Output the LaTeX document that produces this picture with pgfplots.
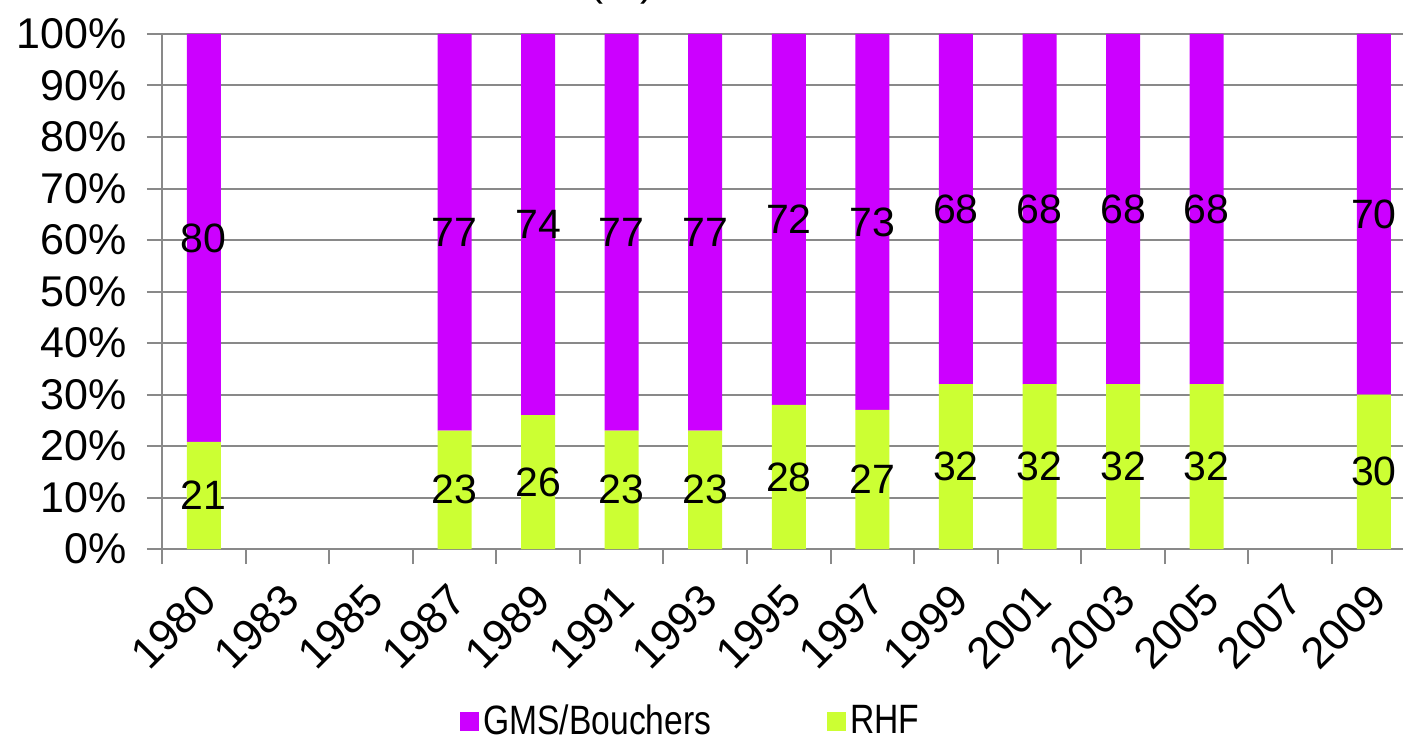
\documentclass[border=0pt]{standalone}
\usepackage{graphicx}
\usepackage{pgfplots}
\pgfplotsset{compat=1.18}
\usepackage{pgfplotstable}
\usepackage{fontspec}
\setmainfont{Liberation Sans}
\definecolor{gms}{HTML}{CC00FF}
\definecolor{rhf}{HTML}{CCFF33}
\definecolor{gridgray}{HTML}{898989}
\pgfplotstableread{
x year RHF GMS
0  1980 21 80
3  1987 23 77
4  1989 26 74
5  1991 23 77
6  1993 23 77
7  1995 28 72
8  1997 27 73
9  1999 32 68
10 2001 32 68
11 2003 32 68
12 2005 32 68
14 2009 30 70
}\datatable
\begin{document}
\begin{tikzpicture}
\pgfplotsset{
  common/.style={scale only axis, width=626.8pt, height=257.5pt,
    xmin=-0.5, xmax=14.5, ymin=0, ymax=100, at={(0pt,0pt)}, anchor=south west}
}
\begin{axis}[common, ybar stacked, bar width=17pt,
  axis lines=left, axis line style={-, draw=gridgray, line width=1pt},
  ymajorgrids, grid style={draw=gridgray, line width=1pt},
  ytick={0,10,...,100},
  yticklabels={0\%,10\%,20\%,30\%,40\%,50\%,60\%,70\%,80\%,90\%,100\%},
  xtick={0,...,14},
  xticklabels={1980,1983,1985,1987,1989,1991,1993,1995,1997,1999,2001,2003,2005,2007,2009},
  minor xtick={-0.5,0.5,...,14.5},
  tick align=outside, major tick length=7.5pt, minor tick length=7.5pt,
  tick style={draw=gridgray, line width=1pt},
  major x tick style={draw=none},
  yticklabel style={font=\fontsize{21.5}{25}\selectfont, xshift=-6.5pt},
  xticklabel style={font=\fontsize{22}{26}\selectfont, xshift=-3.5pt, yshift=-3.5pt, rotate=45, anchor=north east},
]
\addplot[draw=none, fill=rhf]
  table[x=x, y expr={\thisrow{RHF}/(\thisrow{RHF}+\thisrow{GMS})*100}]{\datatable};
\addplot[draw=none, fill=gms]
  table[x=x, y expr={\thisrow{GMS}/(\thisrow{RHF}+\thisrow{GMS})*100}]{\datatable};
\end{axis}
\begin{axis}[common, hide axis, clip=false,
  legend style={at={(0.233,-0.334)}, anchor=west, draw=none, fill=none,
    legend columns=2, font=\fontsize{20.5}{24}\selectfont,
    /tikz/every even column/.append style={column sep=56pt}},
  legend cell align=left]
\addlegendimage{legend image code/.code={\fill[gms] (0pt,-4.5pt) rectangle (9pt,4.5pt);}}
\addlegendentry{\scalebox{0.82}[1]{GMS/Bouchers}}
\addlegendimage{legend image code/.code={\fill[rhf] (0pt,-4.5pt) rectangle (9pt,4.5pt);}}
\addlegendentry{\scalebox{0.82}[1]{RHF}}
\addplot[draw=none, mark=none, nodes near coords, point meta=explicit symbolic,
  every node near coord/.append style={anchor=center, font=\fontsize{20.5}{24}\selectfont, inner sep=0pt}, forget plot]
  table[x=x, y expr={\thisrow{RHF}/2/(\thisrow{RHF}+\thisrow{GMS})*100}, meta=RHF]{\datatable};
\addplot[draw=none, mark=none, nodes near coords, point meta=explicit symbolic,
  every node near coord/.append style={anchor=center, font=\fontsize{20.5}{24}\selectfont, inner sep=0pt}, forget plot]
  table[x=x, y expr={(\thisrow{RHF}+\thisrow{GMS}/2)/(\thisrow{RHF}+\thisrow{GMS})*100}, meta=GMS]{\datatable};
\end{axis}
\node[anchor=base, font=\fontsize{21}{25}\selectfont] at (230pt,276.5pt) {(\%)};
\pgfresetboundingbox
\useasboundingbox (-81pt,-95.5pt) rectangle (620.5pt,274.5pt);
\end{tikzpicture}
\end{document}
